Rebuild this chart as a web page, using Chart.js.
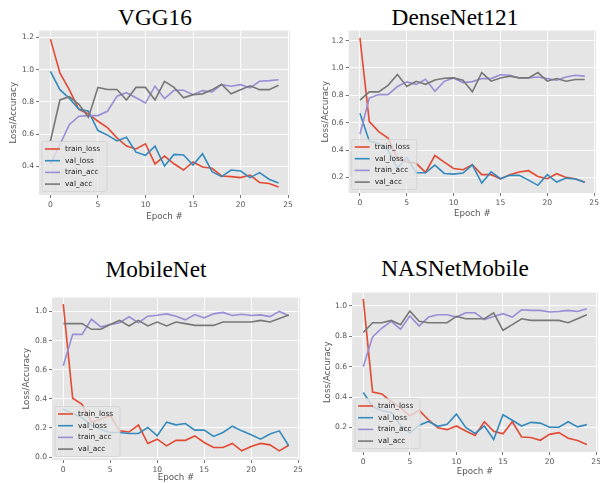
<!DOCTYPE html>
<html>
<head>
<meta charset="utf-8">
<script src="https://cdn.jsdelivr.net/npm/chart.js@4.4.0/dist/chart.umd.min.js"></script>
<style>
body { margin: 0; background: #fff; width: 600px; height: 484px; position: relative; overflow: hidden; }
.title { position: absolute; font-family: "Liberation Serif", "Times New Roman", serif; font-size: 23.3px; line-height: 1; color: #000; transform: translateX(-50%); white-space: nowrap; }
.cell { position: absolute; overflow: hidden; }
canvas { position: absolute; left: 0; top: 0; }
</style>
</head>
<body>
<div class="title" style="left:155px;top:6px">VGG16</div>
<div class="title" style="left:455px;top:6px">DenseNet121</div>
<div class="title" style="left:156px;top:257.5px">MobileNet</div>
<div class="title" style="left:455px;top:257px">NASNetMobile</div>
<script>
const epochs = [0, 1, 2, 3, 4, 5, 6, 7, 8, 9, 10, 11, 12, 13, 14, 15, 16, 17, 18, 19, 20, 21, 22, 23, 24];
const seriesNames = ['train_loss', 'val_loss', 'train_acc', 'val_acc'];

const vggTrainLoss = [1.19, 0.98, 0.875, 0.753, 0.725, 0.68, 0.64, 0.577, 0.526, 0.508, 0.54, 0.415, 0.464, 0.416, 0.377, 0.427, 0.396, 0.388, 0.34, 0.336, 0.33, 0.346, 0.30, 0.293, 0.272];
const vggValLoss = [0.99, 0.876, 0.822, 0.755, 0.742, 0.622, 0.594, 0.558, 0.58, 0.488, 0.468, 0.525, 0.402, 0.474, 0.47, 0.408, 0.478, 0.367, 0.336, 0.377, 0.371, 0.33, 0.361, 0.32, 0.297];
const vggTrainAcc = [0.412, 0.535, 0.66, 0.711, 0.715, 0.715, 0.742, 0.835, 0.857, 0.826, 0.793, 0.898, 0.82, 0.872, 0.872, 0.845, 0.87, 0.862, 0.907, 0.897, 0.907, 0.887, 0.928, 0.932, 0.938];
const vggValAcc = [0.557, 0.812, 0.832, 0.785, 0.705, 0.89, 0.877, 0.877, 0.812, 0.89, 0.89, 0.812, 0.928, 0.89, 0.825, 0.845, 0.85, 0.875, 0.91, 0.85, 0.876, 0.9, 0.876, 0.876, 0.903];

const denseTrainLoss = [1.22, 0.608, 0.535, 0.487, 0.34, 0.315, 0.303, 0.237, 0.36, 0.312, 0.265, 0.256, 0.292, 0.22, 0.22, 0.19, 0.22, 0.24, 0.249, 0.207, 0.19, 0.227, 0.2, 0.19, 0.164];
const denseValLoss = [0.668, 0.465, 0.448, 0.40, 0.268, 0.345, 0.234, 0.234, 0.29, 0.229, 0.224, 0.232, 0.292, 0.159, 0.24, 0.19, 0.215, 0.215, 0.18, 0.142, 0.22, 0.166, 0.195, 0.188, 0.164];
const denseTrainAcc = [0.515, 0.78, 0.806, 0.805, 0.864, 0.898, 0.88, 0.917, 0.83, 0.902, 0.927, 0.893, 0.9, 0.922, 0.922, 0.95, 0.946, 0.927, 0.927, 0.934, 0.922, 0.91, 0.934, 0.946, 0.94];
const denseValAcc = [0.765, 0.825, 0.825, 0.873, 0.952, 0.864, 0.902, 0.88, 0.912, 0.924, 0.927, 0.91, 0.825, 0.966, 0.903, 0.927, 0.94, 0.927, 0.927, 0.966, 0.903, 0.922, 0.903, 0.915, 0.915];

const mobileTrainLoss = [1.05, 0.404, 0.362, 0.24, 0.26, 0.285, 0.18, 0.172, 0.22, 0.093, 0.123, 0.077, 0.115, 0.115, 0.145, 0.1, 0.066, 0.066, 0.094, 0.043, 0.073, 0.094, 0.084, 0.043, 0.081];
const mobileValLoss = [0.329, 0.3, 0.27, 0.22, 0.19, 0.169, 0.169, 0.162, 0.162, 0.203, 0.146, 0.24, 0.221, 0.23, 0.185, 0.185, 0.142, 0.169, 0.212, 0.18, 0.153, 0.123, 0.158, 0.18, 0.078];
const mobileTrainAcc = [0.627, 0.842, 0.842, 0.946, 0.894, 0.91, 0.922, 0.963, 0.922, 0.967, 0.974, 0.983, 0.967, 0.942, 0.978, 0.956, 0.983, 0.993, 0.972, 0.98, 0.972, 0.976, 0.964, 1.0, 0.97];
const mobileValAcc = [0.916, 0.916, 0.916, 0.877, 0.877, 0.91, 0.938, 0.9, 0.938, 0.9, 0.927, 0.9, 0.927, 0.916, 0.904, 0.904, 0.904, 0.927, 0.927, 0.927, 0.927, 0.938, 0.927, 0.952, 0.975];

const nasTrainLoss = [1.046, 0.433, 0.42, 0.372, 0.33, 0.276, 0.313, 0.251, 0.198, 0.186, 0.21, 0.177, 0.147, 0.238, 0.175, 0.159, 0.238, 0.138, 0.134, 0.116, 0.155, 0.166, 0.129, 0.115, 0.088];
const nasValLoss = [0.43, 0.338, 0.31, 0.298, 0.215, 0.162, 0.215, 0.24, 0.208, 0.221, 0.288, 0.2, 0.161, 0.21, 0.121, 0.284, 0.248, 0.21, 0.234, 0.229, 0.202, 0.202, 0.238, 0.204, 0.219];
const nasTrainAcc = [0.6, 0.796, 0.854, 0.898, 0.846, 0.933, 0.867, 0.926, 0.941, 0.941, 0.926, 0.954, 0.954, 0.909, 0.93, 0.948, 0.926, 0.974, 0.97, 0.97, 0.959, 0.963, 0.97, 0.963, 0.98];
const nasValAcc = [0.824, 0.889, 0.889, 0.904, 0.876, 0.965, 0.898, 0.889, 0.889, 0.889, 0.93, 0.915, 0.915, 0.915, 0.954, 0.839, 0.876, 0.915, 0.904, 0.904, 0.904, 0.904, 0.889, 0.915, 0.941];

// ggplot style colours
const lineColors = ['#E24A33', '#348ABD', '#988ED5', '#777777'];
const FONT = "'DejaVu Sans', sans-serif";

// fill the axes face grey like matplotlib's ggplot style
const axesFace = {
    id: 'axesFace',
    beforeDraw(chart) {
        const a = chart.chartArea, ctx = chart.ctx;
        ctx.save();
        ctx.fillStyle = '#E5E5E5';
        ctx.fillRect(a.left, a.top, a.right - a.left, a.bottom - a.top);
        ctx.restore();
    }
};

// legend in the lower left corner, drawn over the lines
const cornerLegend = {
    id: 'cornerLegend',
    afterDraw(chart) {
        const a = chart.chartArea, ctx = chart.ctx;
        const w = 65, h = 50;
        const x = a.left + 3, y = a.bottom - 3.5 - h;
        ctx.save();
        ctx.fillStyle = 'rgba(229,229,229,0.8)';
        ctx.strokeStyle = 'rgba(204,204,204,0.8)';
        ctx.lineWidth = 0.8;
        ctx.beginPath();
        ctx.roundRect(x, y, w, h, 2);
        ctx.fill();
        ctx.stroke();
        ctx.font = '7.4px ' + FONT;
        ctx.textBaseline = 'middle';
        chart.data.datasets.forEach((ds, i) => {
            const cy = y + 7.5 + i * 11.7;
            ctx.strokeStyle = ds.borderColor;
            ctx.lineWidth = 1.6;
            ctx.beginPath();
            ctx.moveTo(x + 3, cy);
            ctx.lineTo(x + 18, cy);
            ctx.stroke();
            ctx.fillStyle = '#222';
            ctx.fillText(ds.label, x + 23, cy);
        });
        ctx.restore();
    }
};

function makeChart(g, series, yMin, yMax) {
    const padTop = 6, padRight = 8, xAxisH = 32;
    const tickSize = 7.6, labelSize = 8.7, lh = labelSize * 1.2;

    const cell = document.createElement('div');
    cell.className = 'cell';
    cell.style.left = g.cellLeft + 'px';
    cell.style.top = (g.T - padTop) + 'px';
    const cw = g.R - g.cellLeft + padRight;
    const chh = padTop + (g.B - g.T) + xAxisH;
    cell.style.width = (g.clipW || cw) + 'px';
    cell.style.height = chh + 'px';
    const canvas = document.createElement('canvas');
    canvas.width = cw;
    canvas.height = chh;
    cell.appendChild(canvas);
    document.body.appendChild(cell);

    const datasets = series.map((vals, i) => ({
        label: seriesNames[i],
        data: epochs.map((e, k) => ({ x: e, y: vals[k] })),
        borderColor: lineColors[i],
        backgroundColor: lineColors[i],
        borderWidth: 1.6,
        pointRadius: 0,
        tension: 0,
        order: 3 - i
    }));

    return new Chart(canvas, {
        type: 'line',
        data: { datasets: datasets },
        plugins: [axesFace, cornerLegend],
        options: {
            responsive: false,
            animation: false,
            devicePixelRatio: 1,
            layout: { padding: { top: padTop, right: padRight, left: 0, bottom: 0 } },
            plugins: { legend: { display: false }, tooltip: { enabled: false } },
            scales: {
                x: {
                    type: 'linear',
                    min: -1.2,
                    max: 25.2,
                    afterFit: s => { s.height = xAxisH; },
                    border: { display: false },
                    grid: { color: '#ffffff', lineWidth: 0.9, tickColor: '#666666', tickLength: 3 },
                    ticks: { stepSize: 5, includeBounds: false, padding: 2, color: '#555555', maxRotation: 0,
                             font: { family: FONT, size: tickSize } },
                    title: { display: true, text: 'Epoch #', color: '#555555',
                             font: { family: FONT, size: labelSize, lineHeight: 1.2 },
                             padding: { top: 0, bottom: g.B + xAxisH - g.xTitleY - lh / 2 } }
                },
                y: {
                    min: yMin,
                    max: yMax,
                    afterFit: s => { s.width = g.L - g.cellLeft; },
                    border: { display: false },
                    grid: { color: '#ffffff', lineWidth: 0.9, tickColor: '#666666', tickLength: 3 },
                    ticks: { stepSize: 0.2, includeBounds: false, padding: 2, color: '#555555',
                             font: { family: FONT, size: tickSize },
                             callback: v => Number(v).toFixed(1) },
                    title: { display: true, text: 'Loss/Accuracy', color: '#555555',
                             font: { family: FONT, size: labelSize, lineHeight: 1.2 },
                             padding: { top: g.yTitleX - g.cellLeft - lh / 2, bottom: 0 } }
                }
            }
        }
    });
}

makeChart({ cellLeft: 0, L: 39, R: 290.2, T: 30, B: 195, yTitleX: 14, xTitleY: 216.7 },
    [vggTrainLoss, vggValLoss, vggTrainAcc, vggValAcc], 0.222, 1.243);
makeChart({ cellLeft: 300, L: 348.7, R: 596.9, T: 30, B: 193, yTitleX: 326, xTitleY: 213.3 },
    [denseTrainLoss, denseValLoss, denseTrainAcc, denseValAcc], 0.086, 1.273);
makeChart({ cellLeft: 0, L: 52, R: 300.7, T: 297, B: 460, yTitleX: 26.7, xTitleY: 478, clipW: 302 },
    [mobileTrainLoss, mobileValLoss, mobileTrainAcc, mobileValAcc], -0.02, 1.095);
makeChart({ cellLeft: 300, L: 352.1, R: 598.4, T: 292, B: 452.7, yTitleX: 327.7, xTitleY: 472.7 },
    [nasTrainLoss, nasValLoss, nasTrainAcc, nasValAcc], 0.039, 1.087);
</script>
</body>
</html>
